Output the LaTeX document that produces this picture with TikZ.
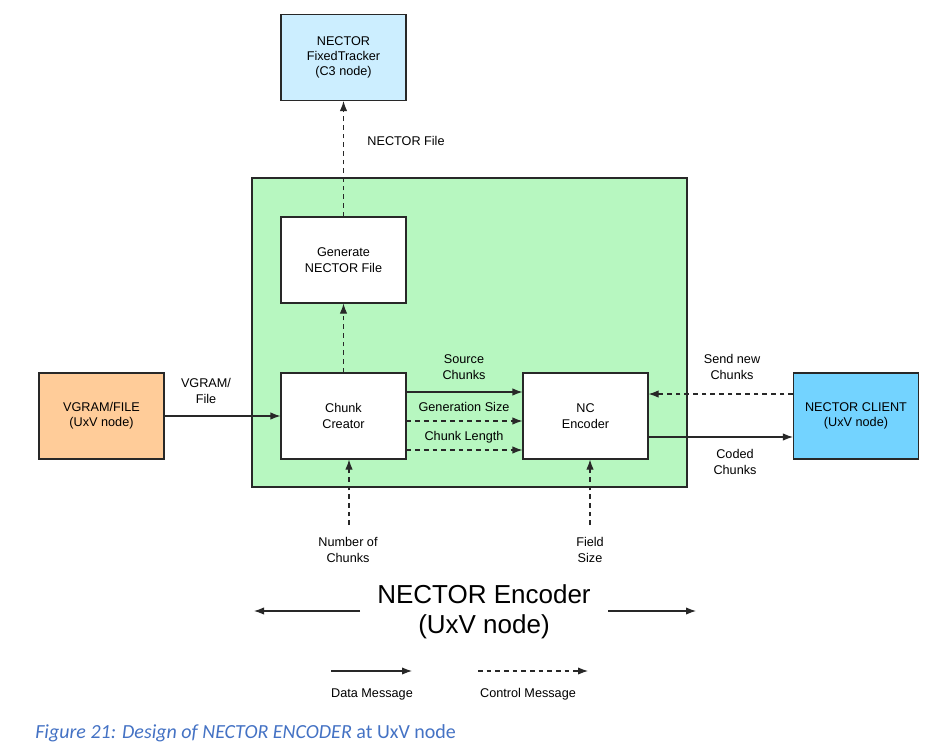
\documentclass[tikz,border=0pt]{standalone}
\usepackage{fontspec}
\setmainfont{Liberation Sans}
\newfontfamily\capfont{Carlito}
\usetikzlibrary{arrows.meta}
\definecolor{encgreen}{RGB}{183,247,192}
\definecolor{vorange}{RGB}{255,204,153}
\definecolor{trackblue}{RGB}{204,238,255}
\definecolor{clientblue}{RGB}{115,211,255}
\definecolor{capblue}{RGB}{68,114,196}
\definecolor{linegray}{RGB}{40,40,40}
\tikzset{
  px/.style={x=0.75pt,y=-0.75pt},
  blk/.style={draw=linegray,line width=0.8pt,minimum width=93.75pt,minimum height=64.5pt,align=center,font=\fontsize{9.5}{11.5}\selectfont,inner sep=0pt},
  lbl/.style={align=center,font=\fontsize{9.5}{11.5}\selectfont,inner sep=0pt},
  data/.style={draw=linegray,line width=0.8pt,-{Latex[length=7.5pt,width=5.5pt]}},
  ctrl/.style={draw=linegray,line width=0.8pt,dash pattern=on 3.5pt off 3pt,-{Latex[length=7.5pt,width=5.5pt]}},
}
\begin{document}
\begin{tikzpicture}[px]
\useasboundingbox (0,0) rectangle (932,747);
% green container
\node[draw=linegray,line width=0.8pt,fill=encgreen,minimum width=326.25pt,minimum height=231.75pt,inner sep=0pt] (enc) at (469.5,332.5) {};
% blocks
\node[blk,fill=trackblue] (track) at (343.5,57.5) {NECTOR\\FixedTracker\\(C3 node)};
\node[blk,fill=white] (gen) at (343.5,260) {Generate\\NECTOR File};
\node[blk,fill=white] (cc) at (343.5,416) {Chunk\\Creator};
\node[blk,fill=white] (nc) at (585.5,416) {NC\\Encoder};
\node[blk,fill=vorange] (vg) at (101.5,416) {VGRAM/FILE\\(UxV node)};
\node[blk,fill=clientblue] (cl) at (856,416) {NECTOR CLIENT\\(UxV node)};
% connectors
\draw[ctrl] (gen.north) -- (track.south);
\draw[ctrl] (cc.north) -- (gen.south);
\draw[data] (vg.east) -- (cc.west);
\draw[data] (cc.east |- 0,392) -- (nc.west |- 0,392);
\draw[ctrl] (cc.east |- 0,421) -- (nc.west |- 0,421);
\draw[ctrl] (cc.east |- 0,450) -- (nc.west |- 0,450);
\draw[ctrl] (cl.west |- 0,394) -- (nc.east |- 0,394);
\draw[data] (nc.east |- 0,437) -- (cl.west |- 0,437);
\coordinate (nin) at (349,525);
\coordinate (fin) at (590,525);
\draw[ctrl] (nin) -- (nin |- cc.south);
\draw[ctrl] (fin) -- (fin |- nc.south);
% labels
\node[lbl] (lnf) at (406,141) {NECTOR File};
\node[lbl] (lvg) at (206,391) {VGRAM/\\File};
\node[lbl] (lsc) at (464,367) {Source\\Chunks};
\node[lbl] (lgs) at (464,407) {Generation Size};
\node[lbl] (lcl) at (464,437) {Chunk Length};
\node[lbl] (lsn) at (732,367) {Send new\\Chunks};
\node[lbl] (lcc) at (735,462) {Coded\\Chunks};
\node[lbl] (lnc) at (348,550) {Number of\\Chunks};
\node[lbl] (lfs) at (590,550) {Field\\Size};
% title
\node[align=center,font=\fontsize{19.5}{22.5}\selectfont,inner sep=0pt] (title) at (484,612) {NECTOR Encoder\\(UxV node)};
\coordinate (tl) at (254,611);
\coordinate (tr) at (696,611);
\draw[data] (360,611) -- (tl);
\draw[data] (608,611) -- (tr);
% legend
\coordinate (d1) at (331,671); \coordinate (d2) at (412,671);
\coordinate (c1) at (478,671); \coordinate (c2) at (588,671);
\draw[data] (d1) -- (d2);
\draw[ctrl] (c1) -- (c2);
\node[lbl] (ldm) at (372,694) {Data Message};
\node[lbl] (lcm) at (528,694) {Control Message};
% caption
\node[anchor=west,inner sep=0pt,text=capblue,font=\capfont\fontsize{15}{18}\selectfont] (cap) at (35,733) {\itshape Figure 21: Design of NECTOR ENCODER\upshape{} at UxV node};
\end{tikzpicture}
\end{document}
